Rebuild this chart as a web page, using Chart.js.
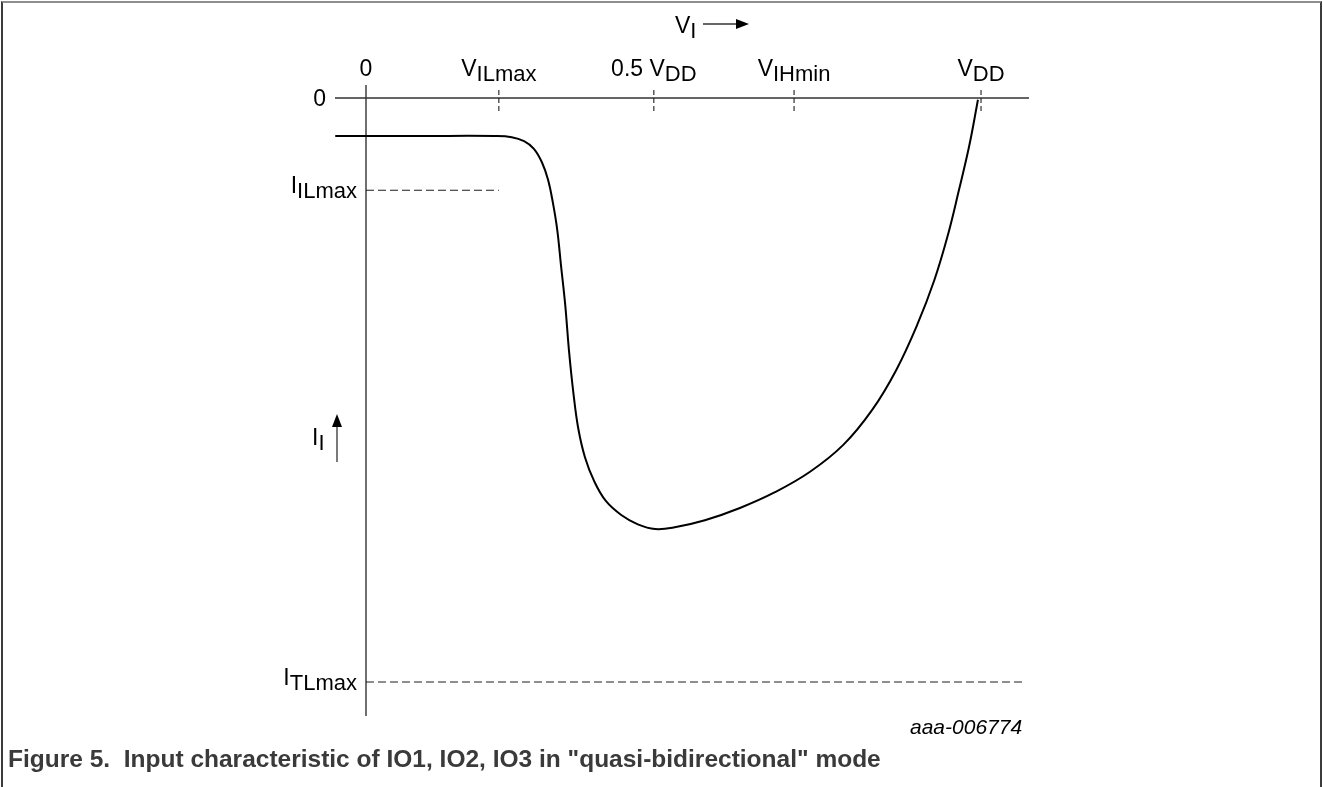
<!DOCTYPE html>
<html>
<head>
<meta charset="utf-8">
<title>Input characteristic of IO1, IO2, IO3</title>
<script src="https://cdn.jsdelivr.net/npm/chart.js@4.4.1/dist/chart.umd.min.js"></script>
<style>
    html, body { margin: 0; padding: 0; background: #fff; }
    #frame {
        position: absolute; left: 1px; top: 1px; width: 1321px; height: 786px;
        box-sizing: border-box;
        border-top: 2px solid #8f8f8f;
        border-left: 2px solid #3c3c3c;
        border-right: 2px solid #3c3c3c;
    }
    #wrap { position: absolute; left: 0; top: 0; width: 1323px; height: 787px; }
    #code {
        position: absolute; left: 910px; top: 715px;
        font: italic 21px "Liberation Sans", Arial, sans-serif; color: #000;
    }
    #caption {
        position: absolute; left: 8px; top: 747px; white-space: nowrap;
        font: bold 24.5px "Liberation Sans", Arial, sans-serif; color: #3a3a3a;
        line-height: 24px;
    }
</style>
</head>
<body>
<div id="frame"></div>
<div id="wrap"><canvas id="chartIO"></canvas></div>
<div id="code">aaa-006774</div>
<div id="caption">Figure 5.&nbsp; Input characteristic of IO1, IO2, IO3 in "quasi-bidirectional" mode</div>
<script>
// input voltage, as a fraction of VDD
const vTicks = [0, 0.216, 0.468, 0.696, 1];
const vTickMain = ["0", "V", "0.5 V", "V", "V"];
const vTickSub = ["", "ILmax", "DD", "IHmin", "DD"];

// input current, as a fraction of ITLmax
const iTicks = [0, -0.158, -1];
const iTickMain = ["0", "I", "I"];
const iTickSub = ["", "ILmax", "TLmax"];

// dashed limits: IILmax up to VILmax, ITLmax across
const limitIILmaxV = [0, 0.216];
const limitIILmaxI = [-0.158, -0.158];
const limitITLmaxV = [0, 1.067];
const limitITLmaxI = [-1, -1];

// the characteristic curve
const curveV = [-0.050, 0.088, 0.210, 0.237, 0.257, 0.273, 0.286, 0.296, 0.304, 0.311, 0.317, 0.324,
    0.330, 0.337, 0.345, 0.356, 0.371, 0.390, 0.415, 0.442, 0.470, 0.502, 0.551, 0.608, 0.665,
    0.722, 0.776, 0.823, 0.862, 0.896, 0.924, 0.946, 0.964, 0.981, 0.995];
const curveI = [-0.065, -0.065, -0.065, -0.067, -0.074, -0.087, -0.110, -0.140, -0.180, -0.226, -0.286, -0.355,
    -0.432, -0.503, -0.565, -0.615, -0.656, -0.690, -0.714, -0.730, -0.738, -0.735, -0.723, -0.702, -0.675,
    -0.640, -0.594, -0.534, -0.466, -0.389, -0.312, -0.235, -0.158, -0.081, -0.003];

const toPoints = (xs, ys) => xs.map((x, i) => ({x: x, y: ys[i]}));

const MAIN_FONT = '23px "Liberation Sans", Arial, sans-serif';
const SUB_FONT = '22px "Liberation Sans", Arial, sans-serif';
const INK = "#333";
const DASH_INK = "#1e1e1e";

function drawLabel(ctx, main, sub, x, y, align) {
    ctx.font = MAIN_FONT;
    const w1 = ctx.measureText(main).width;
    ctx.font = SUB_FONT;
    const w2 = sub ? ctx.measureText(sub).width : 0;
    let x0 = x;
    if (align === "center") x0 = x - (w1 + w2) / 2;
    if (align === "right") x0 = x - w1 - w2;
    ctx.textAlign = "left";
    ctx.textBaseline = "alphabetic";
    ctx.fillStyle = "#000";
    ctx.font = MAIN_FONT;
    ctx.fillText(main, x0, y);
    if (sub) {
        ctx.font = SUB_FONT;
        ctx.fillText(sub, x0 + w1, y + 5);
    }
}

const axesPlugin = {
    id: "axesPlugin",
    beforeDatasetsDraw(chart) {
        const ctx = chart.ctx;
        const xs = chart.scales.x, ys = chart.scales.y;
        const x0 = xs.getPixelForValue(0), y0 = ys.getPixelForValue(0);
        ctx.save();
        ctx.strokeStyle = INK;
        ctx.lineWidth = 1.4;
        ctx.beginPath();
        ctx.moveTo(xs.left, y0);
        ctx.lineTo(xs.right, y0);
        ctx.moveTo(x0, ys.top);
        ctx.lineTo(x0, ys.bottom);
        ctx.stroke();

        // dashed tick marks on the voltage axis
        ctx.strokeStyle = DASH_INK;
        ctx.lineWidth = 1.1;
        ctx.setLineDash([5, 3]);
        vTicks.forEach((v, i) => {
            if (i === 0) return;
            const px = xs.getPixelForValue(v);
            ctx.beginPath();
            ctx.moveTo(px, y0 - 8);
            ctx.lineTo(px, y0 + 15);
            ctx.stroke();
        });
        ctx.setLineDash([]);
        ctx.restore();
    },
    afterDraw(chart) {
        const ctx = chart.ctx;
        const xs = chart.scales.x, ys = chart.scales.y;
        const x0 = xs.getPixelForValue(0), y0 = ys.getPixelForValue(0);
        ctx.save();

        vTicks.forEach((v, i) => {
            drawLabel(ctx, vTickMain[i], vTickSub[i], xs.getPixelForValue(v), y0 - 22, "center");
        });
        iTicks.forEach((v, i) => {
            const py = ys.getPixelForValue(v);
            if (i === 0) drawLabel(ctx, iTickMain[i], "", x0 - 40, py + 8, "right");
            else drawLabel(ctx, iTickMain[i], iTickSub[i], x0 - 9, py + 3, "right");
        });

        // axis titles with arrows
        drawLabel(ctx, "V", "I", x0 + 309, y0 - 65, "left");
        const ay = y0 - 74;
        ctx.strokeStyle = INK;
        ctx.fillStyle = "#000";
        ctx.lineWidth = 1.3;
        ctx.beginPath();
        ctx.moveTo(x0 + 337, ay);
        ctx.lineTo(x0 + 372, ay);
        ctx.stroke();
        ctx.beginPath();
        ctx.moveTo(x0 + 383, ay);
        ctx.lineTo(x0 + 370, ay - 5);
        ctx.lineTo(x0 + 370, ay + 5);
        ctx.closePath();
        ctx.fill();

        const iy = ys.getPixelForValue(-0.594);
        drawLabel(ctx, "I", "I", x0 - 54, iy, "left");
        ctx.beginPath();
        ctx.moveTo(x0 - 29, iy + 17);
        ctx.lineTo(x0 - 29, iy - 20);
        ctx.stroke();
        ctx.beginPath();
        ctx.moveTo(x0 - 29, iy - 31);
        ctx.lineTo(x0 - 34, iy - 18);
        ctx.lineTo(x0 - 24, iy - 18);
        ctx.closePath();
        ctx.fill();
        ctx.restore();
    }
};

new Chart(document.getElementById("chartIO"), {
    type: "line",
    data: {
        datasets: [{
            data: toPoints(curveV, curveI),
            borderColor: "#000",
            borderWidth: 2,
            tension: 0.4,
            pointRadius: 0
        }, {
            data: toPoints(limitIILmaxV, limitIILmaxI),
            borderColor: DASH_INK,
            borderWidth: 1.1,
            borderDash: [8, 4],
            pointRadius: 0
        }, {
            data: toPoints(limitITLmaxV, limitITLmaxI),
            borderColor: DASH_INK,
            borderWidth: 1.1,
            borderDash: [8, 4],
            pointRadius: 0
        }]
    },
    options: {
        responsive: true,
        maintainAspectRatio: false,
        animation: false,
        layout: {
            padding: {left: 335, right: 294, top: 85, bottom: 71}
        },
        scales: {
            x: {type: "linear", min: -0.0504, max: 1.078, display: false},
            y: {type: "linear", min: -1.0582, max: 0.0223, display: false}
        },
        plugins: {
            legend: {display: false},
            tooltip: {enabled: false}
        }
    },
    plugins: [axesPlugin]
});
</script>
</body>
</html>
